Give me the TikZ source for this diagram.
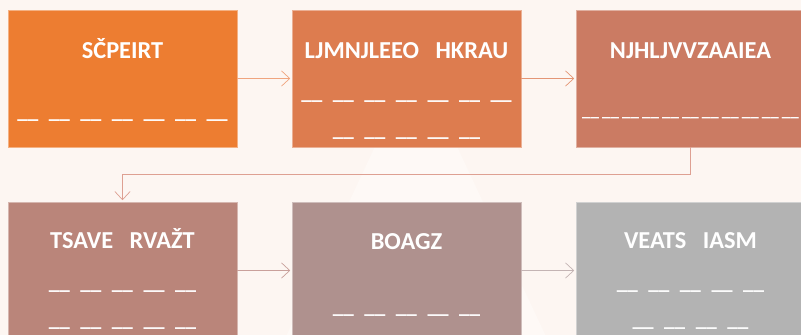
\documentclass[tikz,border=0pt]{standalone}
\usepackage{fontspec}
\setmainfont{Carlito}
\usetikzlibrary{positioning,arrows.meta,calc}

\definecolor{bgpink}{RGB}{253,246,242}
\definecolor{bglight}{RGB}{254,249,246}
\definecolor{boxA}{RGB}{237,125,49}
\definecolor{boxB}{RGB}{221,124,79}
\definecolor{boxC}{RGB}{203,123,99}
\definecolor{boxD}{RGB}{186,133,122}
\definecolor{boxE}{RGB}{175,145,142}
\definecolor{boxF}{RGB}{179,179,179}
\definecolor{arrA}{RGB}{240,165,127}
\definecolor{arrB}{RGB}{228,150,118}
\definecolor{arrC}{RGB}{222,160,146}
\definecolor{arrD}{RGB}{201,160,155}
\definecolor{arrE}{RGB}{196,180,180}

% a row of blanks to fill in
\newcommand{\blanks}[2][9pt]{\_\_\foreach \i in {2,...,#2}{\hspace{#1}\_\_}}

\begin{document}
\begin{tikzpicture}[
    box/.style={rectangle, minimum width=6.87cm, minimum height=4.11cm,
        inner sep=0pt, outer sep=0pt, draw=white!40!#1, fill=#1, line width=0.5pt},
    title/.style={anchor=base, text=white, font=\bfseries\fontsize{20.8}{24}\selectfont},
    blank/.style={anchor=base, text=white, font=\bfseries\fontsize{18}{22}\selectfont},
    link/.style={-{Straight Barb[length=7pt,width=13pt]}, line width=0.6pt, shorten >=1.5pt}
]
    \useasboundingbox (0,0) rectangle (24.03,10.05);
    \clip (0,0) rectangle (24.03,10.05);
    \fill[bgpink] (0,0) rectangle (24.03,10.05);
    \fill[bglight] (12.48,8.28) -- (16.36,0) -- (8.6,0) -- cycle;

    \node[box=boxA] (scp) at (3.675,7.695) {};
    \node[box=boxB, right=1.65cm of scp] (ljm) {};
    \node[box=boxC, right=1.65cm of ljm] (njh) {};
    \node[box=boxD, below=1.65cm of scp] (tsa) {};
    \node[box=boxE, right=1.65cm of tsa] (boa) {};
    \node[box=boxF, right=1.65cm of boa] (vea) {};

    \node[title] (scp-t) at ($(scp.north)+(0,-1.45)$) {SČPEIRT};
    \node[title] (ljm-t) at ($(ljm.north)+(0,-1.45)$) {LJMNJLEEO~~~HKRAU};
    \node[title] (njh-t) at ($(njh.north)+(0,-1.45)$) {NJHLJVVZAAIEA};
    \node[title] (tsa-t) at ($(tsa.north)+(0,-1.41)$) {TSAVE~~~RVAŽT};
    \node[title] (boa-t) at ($(boa.north)+(0,-1.43)$) {BOAGZ};
    \node[title] (vea-t) at ($(vea.north)+(0,-1.39)$) {VEATS~~~IASM};

    \node[blank] (scp-b) at ($(scp.north)+(0,-3.25)$) {\blanks{7}};
    \node[blank] (ljm-b1) at ($(ljm.north)+(0,-2.68)$) {\blanks{7}};
    \node[blank] (ljm-b2) at ($(ljm.north)+(0,-3.79)$) {\blanks{5}};
    \node[blank, font=\bfseries\fontsize{14.5}{18}\selectfont] (njh-b) at ($(njh.north)+(0,-3.19)$) {\blanks[2.6pt]{11}};
    \node[blank] (tsa-b1) at ($(tsa.north)+(0,-2.62)$) {\blanks{5}};
    \node[blank] (tsa-b2) at ($(tsa.north)+(0,-3.73)$) {\blanks{5}};
    \node[blank] (boa-b) at ($(boa.north)+(0,-3.34)$) {\blanks{5}};
    \node[blank] (vea-b1) at ($(vea.north)+(0,-2.62)$) {\blanks{5}};
    \node[blank] (vea-b2) at ($(vea.north)+(0,-3.73)$) {\blanks{4}};

    \draw[link, arrA] (scp) -- (ljm);
    \draw[link, arrB] (ljm) -- (njh);
    \draw[link, arrC] (njh.south) -- ++(0,-0.825) -| (tsa.north);
    \draw[link, arrD] (tsa) -- (boa);
    \draw[link, arrE] (boa) -- (vea);
\end{tikzpicture}
\end{document}
